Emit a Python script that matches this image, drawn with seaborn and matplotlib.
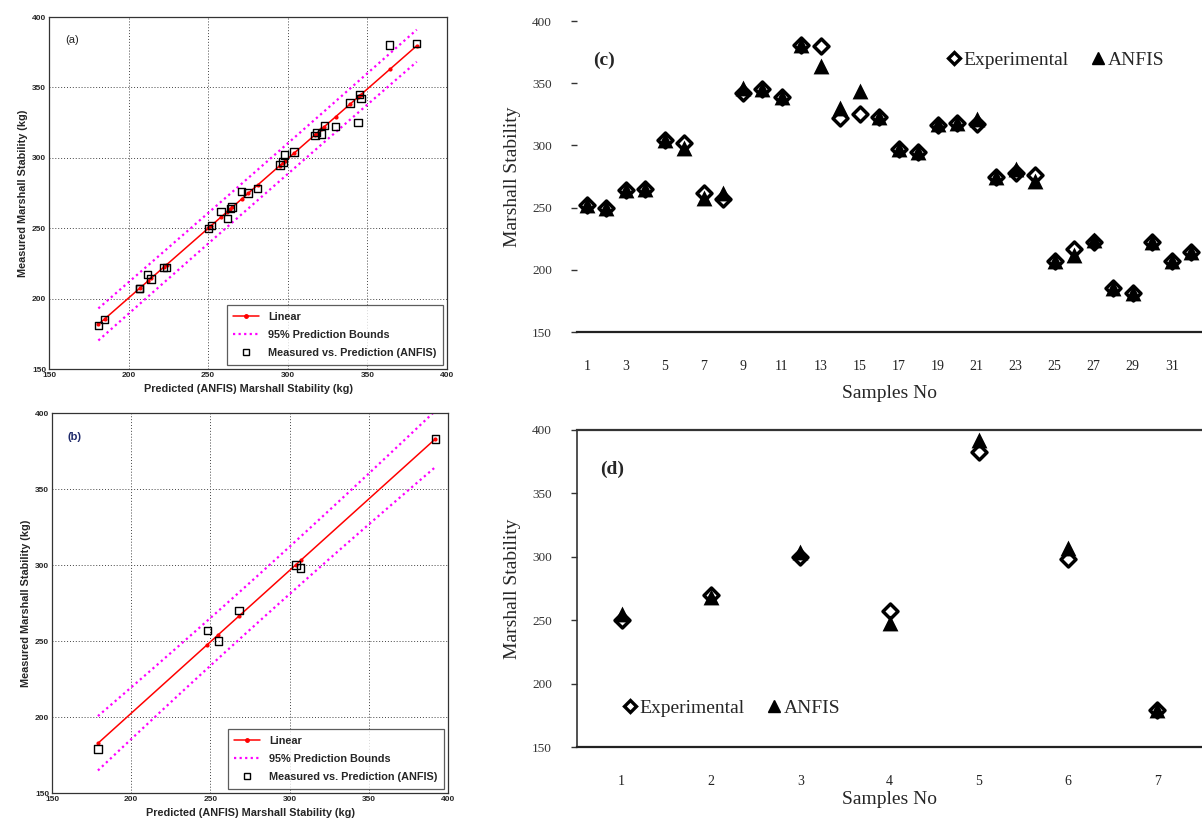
import numpy as np
import pandas as pd
import matplotlib
matplotlib.use("Agg")
import matplotlib.pyplot as plt
import seaborn as sns
from matplotlib.lines import Line2D

sns.set_theme(style="white")
plt.rcParams['font.family'] = ['Liberation Sans', 'DejaVu Sans']

# training set: 32 samples (Marshall stability, kg)
samples_train = list(range(1, 33))
exp_train = [252, 250, 264, 265, 304, 302, 262, 257, 342, 345, 339, 381, 380, 322, 325, 323,
             297, 295, 316, 318, 317, 275, 278, 276, 207, 217, 222, 185, 181, 222, 207, 214]
anfis_train = [252, 250, 264, 265, 304, 298, 258, 262, 346, 345, 339, 381, 364, 330, 344, 323,
               297, 295, 317, 318, 321, 275, 281, 271, 207, 212, 224, 185, 181, 222, 207, 214]

# testing set: 7 samples
samples_test = list(range(1, 8))
exp_test = [250, 270, 300, 257, 383, 298, 179]
anfis_test = [255, 268, 304, 248, 392, 307, 179]

stab_ticks = [150, 200, 250, 300, 350, 400]
t95 = {30: 2.042, 5: 2.571}   # t(0.975, n-2)

SERIF = ['Liberation Serif', 'DejaVu Serif']


def fit_with_bounds(x, y):
    """linear fit + 95% prediction bounds (new observation)"""
    x = np.asarray(x, float)
    y = np.asarray(y, float)
    n = len(x)
    slope, icpt = np.polyfit(x, y, 1)
    resid = y - (slope * x + icpt)
    s = np.sqrt(np.sum(resid ** 2) / (n - 2))
    xm = x.mean()
    sxx = np.sum((x - xm) ** 2)
    xs = np.linspace(x.min(), x.max(), 60)
    yh = slope * xs + icpt
    half = t95[n - 2] * s * np.sqrt(1 + 1 / n + (xs - xm) ** 2 / sxx)
    xd = np.sort(np.unique(x))
    return xs, yh, yh - half, yh + half, xd, slope * xd + icpt


def draw_fit_panel(ax, pred, meas, tag, tag_kw):
    xs, yh, lo, hi, xd, yd = fit_with_bounds(pred, meas)
    sns.lineplot(x=xs, y=lo, ax=ax, color='magenta', lw=1.6, ls=(0, (1, 1.5)), zorder=2)
    sns.lineplot(x=xs, y=hi, ax=ax, color='magenta', lw=1.6, ls=(0, (1, 1.5)), zorder=2)
    sns.lineplot(x=xs, y=yh, ax=ax, color='red', lw=1.1, zorder=3)
    ax.plot(xd, yd, ls='none', marker='.', ms=4, color='red', zorder=3)
    df = pd.DataFrame({'pred': pred, 'meas': meas})
    sns.scatterplot(data=df, x='pred', y='meas', ax=ax, marker='s', s=28,
                    facecolors='none', edgecolor='black', linewidth=1.0, zorder=4)

    ax.set_xlim(150, 400)
    ax.set_ylim(150, 400)
    ax.set_xticks(stab_ticks)
    ax.set_yticks(stab_ticks)
    ax.tick_params(direction='in', length=3, labelsize=6, pad=2)
    for lab in ax.get_xticklabels() + ax.get_yticklabels():
        lab.set_fontweight('bold')
    ax.grid(True, ls=(0, (1, 2)), color='#444444', lw=0.7)
    for sp in ax.spines.values():
        sp.set_color('#333333')
        sp.set_linewidth(0.9)
    ax.set_xlabel('Predicted (ANFIS) Marshall Stability (kg)', fontsize=7.8,
                  fontweight='bold', labelpad=4)
    ax.set_ylabel('Measured Marshall Stability (kg)', fontsize=7.8,
                  fontweight='bold', labelpad=3)
    ax.text(0.04, 0.95, tag, transform=ax.transAxes, fontsize=8, va='top', **tag_kw)

    handles = [
        Line2D([], [], color='red', lw=1.1, marker='.', ms=5, label='Linear'),
        Line2D([], [], color='magenta', lw=1.6, ls=(0, (1, 1.5)), label='95% Prediction Bounds'),
        Line2D([], [], color='black', ls='none', marker='s', mfc='none', ms=5,
               label='Measured vs. Prediction (ANFIS)'),
    ]
    leg = ax.legend(handles=handles, loc='lower right', prop={'size': 7.8, 'weight': 'semibold'},
                    frameon=True, fancybox=False, borderaxespad=0.4, handlelength=2.4,
                    labelspacing=0.75, borderpad=0.6)
    leg.get_frame().set_edgecolor('#333333')
    leg.get_frame().set_linewidth(0.9)


def draw_sample_panel(ax, samples, exp, anfis, tag, tag_x, leg_anchor, xticks, boxed):
    df = pd.DataFrame({'Sample': samples, 'Experimental': exp, 'ANFIS': anfis})
    sns.scatterplot(data=df, x='Sample', y='Experimental', ax=ax, marker='D', s=58,
                    color='white', edgecolor='black', linewidth=2.5, zorder=3)
    sns.scatterplot(data=df, x='Sample', y='ANFIS', ax=ax, marker='^', s=130,
                    color='black', edgecolor='black', linewidth=0, zorder=4)
    ax.set_xlim(0.5, len(samples) + 0.5)
    ax.set_ylim(150, 400)
    ax.set_xticks(xticks)
    ax.set_yticks(stab_ticks)
    ax.tick_params(axis='x', length=0, pad=20, labelsize=10, labelcolor='#222222')
    ax.tick_params(axis='y', left=True, length=4, width=1, color='#333333', pad=14,
                   labelsize=9.5, labelcolor='#333333')
    for lab in ax.get_xticklabels() + ax.get_yticklabels():
        lab.set_family(SERIF)
    for side in ['top', 'bottom', 'left', 'right']:
        ax.spines[side].set_visible(False)
    ax.spines['bottom'].set_visible(True)
    ax.spines['bottom'].set_color('#222222')
    ax.spines['bottom'].set_linewidth(1.6)
    if boxed:
        ax.spines['top'].set_visible(True)
        ax.spines['top'].set_color('#333333')
        ax.spines['top'].set_linewidth(1.6)
        ax.spines['left'].set_visible(True)
        ax.spines['left'].set_color('#333333')
        ax.spines['left'].set_linewidth(1.2)
    ax.set_xlabel('Samples No', family=SERIF, fontsize=14, labelpad=2 if boxed else 9)
    ax.set_ylabel('Marshall Stability', family=SERIF, fontsize=14, labelpad=8)
    ax.text(tag_x, 0.875, tag, transform=ax.transAxes, family=SERIF, fontsize=14,
            fontweight='bold', va='center')

    handles = [
        Line2D([], [], ls='none', marker='D', ms=6.5, mfc='white', mec='black', mew=2.4,
               label='Experimental'),
        Line2D([], [], ls='none', marker='^', ms=9, mfc='black', mec='black',
               label='ANFIS'),
    ]
    ax.legend(handles=handles, loc='center', bbox_to_anchor=leg_anchor, ncol=2,
              frameon=False, prop={'family': SERIF, 'size': 14}, handletextpad=0.0,
              columnspacing=1.0, handlelength=1.0)


fig = plt.figure(figsize=(12.02, 8.24), dpi=100)
W, H = 1202.0, 824.0


def px_axes(left, top, right, bottom):
    return fig.add_axes([left / W, 1 - bottom / H, (right - left) / W, (bottom - top) / H])


ax_a = px_axes(49, 17, 447, 369)
ax_b = px_axes(52, 413, 448, 793)
ax_c = px_axes(577, 21, 1201, 332)
ax_d = px_axes(577, 430, 1202, 747)

draw_fit_panel(ax_a, anfis_train, exp_train, '(a)', {'color': '#222222'})
draw_fit_panel(ax_b, anfis_test, exp_test, '(b)', {'color': '#1f2a6b', 'fontweight': 'bold'})

draw_sample_panel(ax_c, samples_train, exp_train, anfis_train, '(c)', 0.026, (0.765, 0.875),
                  list(range(1, 33, 2)), boxed=False)
draw_sample_panel(ax_d, samples_test, exp_test, anfis_test, '(d)', 0.037, (0.245, 0.123),
                  samples_test, boxed=True)

fig.savefig('out.png', dpi=100, facecolor='white')
